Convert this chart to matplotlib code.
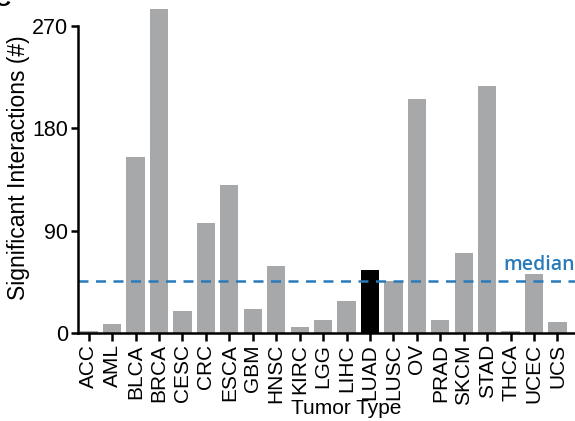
import matplotlib.pyplot as plt

tumor_types = ['ACC', 'AML', 'BLCA', 'BRCA', 'CESC', 'CRC', 'ESCA', 'GBM', 'HNSC', 'KIRC',
               'LGG', 'LIHC', 'LUAD', 'LUSC', 'OV', 'PRAD', 'SKCM', 'STAD', 'THCA', 'UCEC', 'UCS']
interactions = [2, 8, 155, 285, 19, 97, 130, 21, 59, 5,
                11, 28, 55, 46, 206, 11, 70, 217, 2, 52, 10]
highlight = 'LUAD'
median_value = 46
y_ticks = [0, 90, 180, 270]

plt.rcParams['font.family'] = ['Liberation Sans', 'DejaVu Sans']

fig = plt.figure(figsize=(5.75, 4.21), dpi=100)
ax = fig.add_axes([0.136, 0.209, 0.864, 0.784])

colors = ['black' if t == highlight else '#a7a8aa' for t in tumor_types]
ax.bar(range(len(tumor_types)), interactions, width=0.78, color=colors)
ax.axhline(median_value, color='#2a7ab9', linestyle=(0, (4, 3)), linewidth=1.8)
ax.text(20.75, median_value + 5, 'median', color='#2a7ab9', fontsize=14,
        fontweight='semibold', family='Open Sans', ha='right', va='bottom')

ax.set_xlim(-0.45, 20.75)
ax.set_ylim(0, 290)
ax.set_yticks(y_ticks)
ax.set_xticks(range(len(tumor_types)))
ax.set_xticklabels(tumor_types, rotation=90, fontsize=15)
ax.tick_params(axis='y', labelsize=15.5, width=1.8, length=5, pad=2)
ax.tick_params(axis='x', width=1.8, length=6, pad=2)

ax.set_xlabel('Tumor Type', fontsize=15)
ax.xaxis.set_label_coords(0.54, -0.2)
ax.set_ylabel('Significant Interactions (#)', fontsize=16.5, labelpad=2)

for side in ['top', 'right']:
    ax.spines[side].set_visible(False)
ax.spines['left'].set_linewidth(1.8)
ax.spines['bottom'].set_linewidth(1.8)
ax.spines['left'].set_bounds(0, 270)

fig.text(-0.01, 1.0, 'C', fontsize=16, fontweight='bold', va='center', ha='left')

fig.savefig('out.png', dpi=100)
